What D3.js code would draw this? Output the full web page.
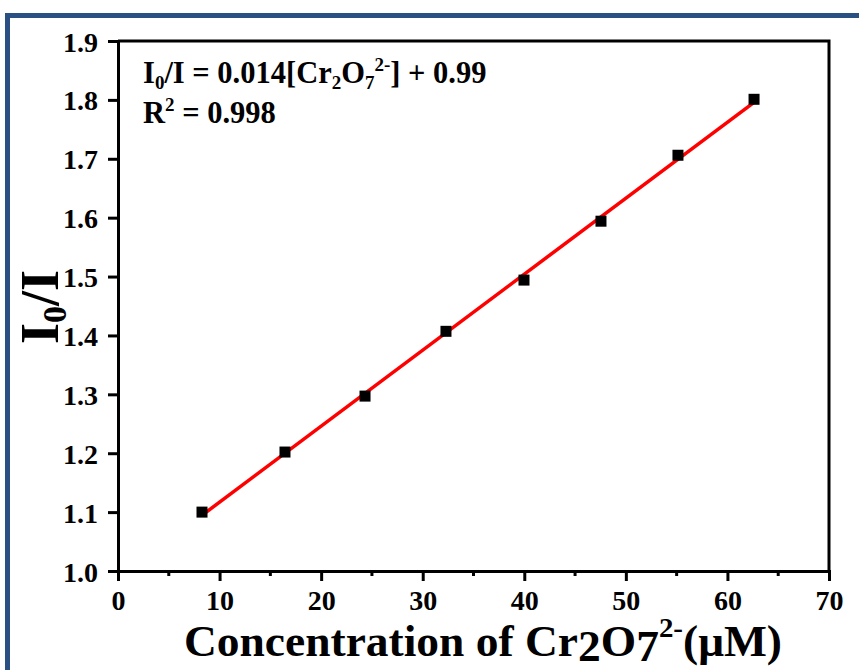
<!DOCTYPE html>
<html>
<head>
<meta charset="utf-8">
<script src="https://cdn.jsdelivr.net/npm/d3@7"></script>
<style>
  html, body { margin: 0; padding: 0; background: #ffffff; }
  svg { display: block; }
  text { font-family: "Liberation Serif", "Times New Roman", serif; font-weight: bold; fill: #000; }
</style>
</head>
<body>
<svg id="chart" width="859" height="670"></svg>
<script>
// Dichromate concentration (µM) vs. quenching ratio I0/I
const concentration = [8.27, 16.44, 24.32, 32.29, 39.97, 47.55, 55.13, 62.62];
const ratio = [1.100, 1.202, 1.297, 1.407, 1.494, 1.594, 1.706, 1.801];
const xTicks = [0, 10, 20, 30, 40, 50, 60, 70];
const xMinorTicks = [5, 15, 25, 35, 45, 55, 65];
const yTicks = [1.0, 1.1, 1.2, 1.3, 1.4, 1.5, 1.6, 1.7, 1.8, 1.9];

const W = 859, H = 670;
const m = { left: 118, right: 30, top: 41, bottom: 99 };
const svg = d3.select("#chart");

// Outer frame
svg.append("rect")
  .attr("x", 7.5).attr("y", 15.5)
  .attr("width", W + 20).attr("height", H + 20)
  .attr("fill", "#ffffff")
  .attr("stroke", "#2a4f82").attr("stroke-width", 5);

const x = d3.scaleLinear().domain([0, 70]).range([m.left, W - m.right]);
const y = d3.scaleLinear().domain([1.0, 1.9]).range([H - m.bottom, m.top]);

// Plot box (top and right edges)
svg.append("path")
  .attr("d", `M${x(0)},${y(1.9)}H${x(70)}V${y(1.0)}`)
  .attr("fill", "none").attr("stroke", "#000").attr("stroke-width", 3);

// X axis
const gx = svg.append("g").attr("transform", `translate(0,${y(1.0)})`)
  .call(d3.axisBottom(x).tickValues(xTicks).tickFormat(d3.format("d")).tickSize(10).tickPadding(9));
gx.append("g").selectAll("line").data(xMinorTicks).join("line")
  .attr("x1", d => x(d)).attr("x2", d => x(d)).attr("y1", 0).attr("y2", 5)
  .attr("stroke", "#000").attr("stroke-width", 3);

// Y axis
const gy = svg.append("g").attr("transform", `translate(${x(0)},0)`)
  .call(d3.axisLeft(y).tickValues(yTicks).tickFormat(d3.format(".1f")).tickSize(10).tickPadding(10));

[gx, gy].forEach(g => {
  g.select(".domain").attr("stroke", "#000").attr("stroke-width", 3);
  g.selectAll(".tick line").attr("stroke", "#000").attr("stroke-width", 3);
  g.selectAll(".tick text")
    .style("font-family", "'Liberation Serif', 'Times New Roman', serif")
    .style("font-weight", "bold").style("font-size", "28px").attr("fill", "#000");
});
gx.selectAll(".tick text").attr("dy", "0.71em");
gy.selectAll(".tick text").attr("dy", "0.36em");

// Least-squares fit through the points
const mx = d3.mean(concentration), my = d3.mean(ratio);
const slope = d3.sum(concentration, (c, i) => (c - mx) * (ratio[i] - my)) /
              d3.sum(concentration, c => (c - mx) * (c - mx));
const intercept = my - slope * mx;
const xFit = d3.extent(concentration);
svg.append("line")
  .attr("x1", x(xFit[0])).attr("y1", y(slope * xFit[0] + intercept))
  .attr("x2", x(xFit[1])).attr("y2", y(slope * xFit[1] + intercept))
  .attr("stroke", "#ff0000").attr("stroke-width", 3.5);

// Data points
const s = 11;
svg.append("g").selectAll("rect").data(concentration).join("rect")
  .attr("x", d => x(d) - s / 2)
  .attr("y", (d, i) => y(ratio[i]) - s / 2)
  .attr("width", s).attr("height", s)
  .attr("fill", "#000");

// Fit equation
const eq = svg.append("text").attr("x", 143).attr("y", 83).style("font-size", "30.5px");
eq.append("tspan").text("I");
eq.append("tspan").attr("dy", 6).style("font-size", "19px").text("0");
eq.append("tspan").attr("dy", -6).text("/I = 0.014[Cr");
eq.append("tspan").attr("dy", 6).style("font-size", "19px").text("2");
eq.append("tspan").attr("dy", -6).text("O");
eq.append("tspan").attr("dy", 6).style("font-size", "19px").text("7");
eq.append("tspan").attr("dy", -18).style("font-size", "19px").text("2-");
eq.append("tspan").attr("dy", 12).text("] + 0.99");

const r2 = svg.append("text").attr("x", 143).attr("y", 123).style("font-size", "30.5px");
r2.append("tspan").text("R");
r2.append("tspan").attr("dy", -12).style("font-size", "19px").text("2");
r2.append("tspan").attr("dy", 12).text(" = 0.998");

// X axis title
const xt = svg.append("text").attr("x", 483).attr("y", 656)
  .attr("text-anchor", "middle").style("font-size", "44px")
  .attr("textLength", 598).attr("lengthAdjust", "spacingAndGlyphs");
xt.append("tspan").text("Concentration of Cr");
xt.append("tspan").attr("dy", 5).text("2");
xt.append("tspan").attr("dy", -5).text("O");
xt.append("tspan").attr("dy", 5).text("7");
xt.append("tspan").attr("dy", -24).style("font-size", "28px").text("2-");
xt.append("tspan").attr("dy", 19).text("(μM)");

// Y axis title
const yt = svg.append("text")
  .attr("transform", "translate(58,307) rotate(-90)")
  .attr("text-anchor", "middle").style("font-size", "54px");
yt.append("tspan").text("I");
yt.append("tspan").attr("dy", 8).style("font-size", "34px").text("0");
yt.append("tspan").attr("dy", -8).text("/I");
</script>
</body>
</html>
